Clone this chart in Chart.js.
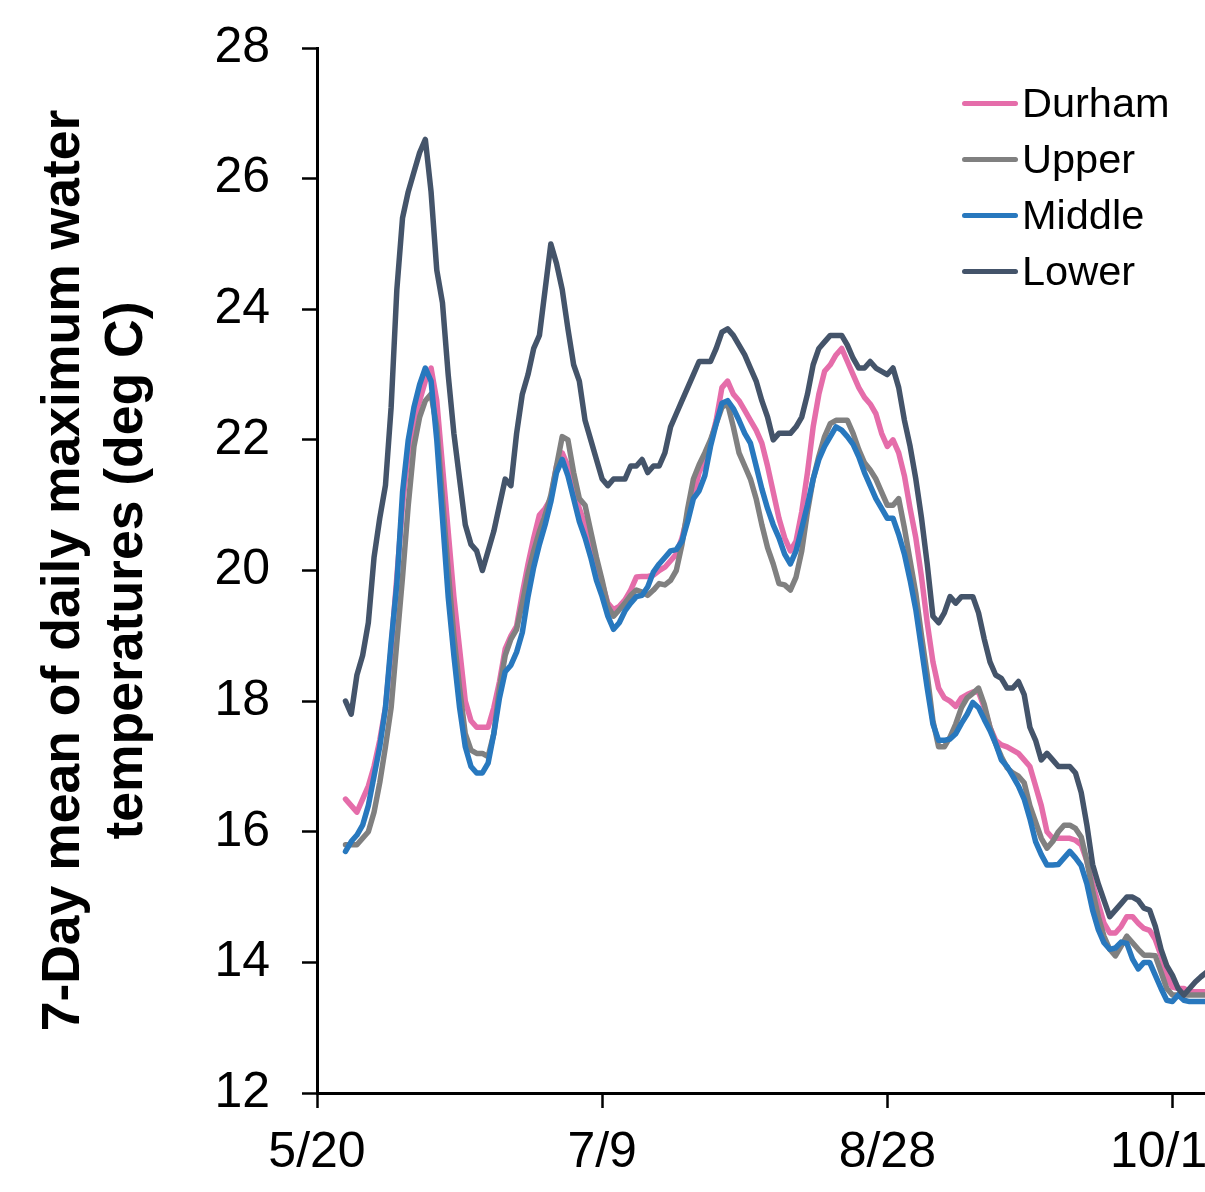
<!DOCTYPE html>
<html>
<head>
<meta charset="utf-8">
<script src="https://cdn.jsdelivr.net/npm/chart.js@4.4.1/dist/chart.umd.min.js"></script>
<style>
  html, body { margin: 0; padding: 0; background: #fff; }
  body { width: 1205px; height: 1192px; overflow: hidden; position: relative; }
  #chart { position: absolute; left: 0; top: 0; }
  #legend { position: absolute; left: 962px; top: 75px; font-family: "Liberation Sans", Arial, sans-serif; font-size: 41.5px; color: #000; }
  .item { display: flex; align-items: center; height: 56px; white-space: nowrap; }
  .swatch { width: 56px; height: 5px; border-radius: 3px; margin-right: 4px; }
</style>
</head>
<body>
<canvas id="chart" width="1258" height="1192"></canvas>
<div id="legend"></div>
<script>
// Данные: 7-дневное среднее суточных максимумов, по дням начиная с 5/25 (день 5 от 5/20)
const firstDay = 5;

const durham = [
    16.5, 16.4, 16.3, 16.5, 16.7, 17.0, 17.4, 17.9, 18.8, 19.9,
    21.0, 21.8, 22.3, 22.6, 22.9, 23.1, 22.6, 21.6, 20.6, 19.6,
    18.8, 18.0, 17.7, 17.6, 17.6, 17.6, 17.9, 18.3, 18.8, 19.0,
    19.15, 19.65, 20.1, 20.5, 20.85, 20.95, 21.1, 21.6, 21.8, 21.6,
    21.2, 20.95, 20.7, 20.4, 20.05, 19.8, 19.5, 19.4, 19.45, 19.55,
    19.7, 19.9, 19.91, 19.91, 19.93, 20.0, 20.05, 20.15, 20.25, 20.5,
    20.85, 21.15, 21.5, 21.7, 21.95, 22.3, 22.8, 22.9, 22.7, 22.6,
    22.45, 22.3, 22.15, 21.95, 21.6, 21.2, 20.8, 20.5, 20.3, 20.45,
    20.9, 21.5, 22.2, 22.7, 23.05, 23.15, 23.3, 23.4, 23.2, 23.0,
    22.8, 22.65, 22.55, 22.4, 22.1, 21.9, 22.0, 21.8, 21.45, 20.95,
    20.5, 19.9, 19.2, 18.6, 18.2, 18.05, 18.0, 17.92, 18.05, 18.1,
    18.14, 18.14, 17.9, 17.6, 17.4, 17.33, 17.3, 17.25, 17.2, 17.1,
    17.0, 16.7, 16.4, 16.0, 15.9, 15.9, 15.9, 15.9, 15.87, 15.8,
    15.55, 15.2, 14.9, 14.6, 14.45, 14.45, 14.55, 14.7, 14.7, 14.6,
    14.52, 14.49, 14.35, 14.1, 13.8, 13.62, 13.6, 13.6, 13.55, 13.55,
    13.55, 13.55, 13.55
];

const upper = [
    15.8, 15.8, 15.8, 15.9, 16.0, 16.3, 16.75, 17.3, 17.9, 18.9,
    19.9, 21.0, 21.9, 22.35, 22.6, 22.7, 22.2, 21.1, 20.0, 19.0,
    18.2, 17.5, 17.25, 17.2, 17.2, 17.15, 17.5, 18.2, 18.7, 18.95,
    19.1, 19.5, 19.95, 20.3, 20.6, 20.85, 21.15, 21.6, 22.05, 22.0,
    21.5, 21.1, 21.0, 20.6, 20.2, 19.85, 19.45, 19.3, 19.4, 19.5,
    19.62, 19.7, 19.67, 19.62, 19.7, 19.8, 19.78, 19.85, 20.0, 20.4,
    20.95, 21.4, 21.62, 21.8, 22.0, 22.25, 22.5, 22.55, 22.2, 21.8,
    21.6, 21.4, 21.1, 20.7, 20.35, 20.1, 19.8, 19.78, 19.7, 19.9,
    20.3, 20.9, 21.4, 21.75, 22.05, 22.25, 22.3, 22.3, 22.3, 22.1,
    21.85, 21.65, 21.54, 21.4, 21.2, 21.0, 21.0, 21.1, 20.65, 20.15,
    19.65, 19.0, 18.4, 17.7, 17.3, 17.3, 17.45, 17.65, 17.9, 18.05,
    18.12, 18.2, 17.95, 17.6, 17.35, 17.15, 16.98, 16.9, 16.85, 16.75,
    16.4, 16.15, 15.9, 15.75, 15.85, 16.0, 16.1, 16.1, 16.05, 15.92,
    15.55, 15.1, 14.7, 14.4, 14.2, 14.1, 14.25, 14.4, 14.3, 14.2,
    14.11, 14.11, 14.1, 13.85, 13.6, 13.5, 13.5, 13.5, 13.5, 13.5,
    13.5, 13.5, 13.5
];

const middle = [
    15.7, 15.85, 15.95, 16.1, 16.4, 16.85, 17.3, 17.9, 18.9, 19.8,
    21.2, 22.0, 22.5, 22.85, 23.1, 22.9, 22.0, 20.8, 19.6, 18.7,
    17.9, 17.3, 17.0, 16.9, 16.9, 17.05, 17.5, 18.05, 18.45, 18.55,
    18.75, 19.05, 19.6, 20.05, 20.4, 20.7, 21.05, 21.5, 21.7, 21.45,
    21.1, 20.75, 20.5, 20.2, 19.85, 19.6, 19.3, 19.1, 19.2, 19.38,
    19.5, 19.6, 19.62, 19.75, 19.98, 20.1, 20.2, 20.3, 20.32, 20.45,
    20.75, 21.1, 21.22, 21.45, 21.9, 22.25, 22.56, 22.6, 22.48, 22.3,
    22.1, 21.95, 21.6, 21.25, 20.95, 20.7, 20.5, 20.25, 20.1, 20.3,
    20.65, 21.0, 21.4, 21.7, 21.9, 22.05, 22.2, 22.15, 22.05, 21.93,
    21.74, 21.5, 21.3, 21.1, 20.95, 20.8, 20.8, 20.55, 20.25, 19.85,
    19.4, 18.8, 18.2, 17.65, 17.4, 17.4, 17.42, 17.5, 17.66, 17.8,
    17.98, 17.9, 17.72, 17.55, 17.35, 17.1, 17.0, 16.85, 16.7, 16.5,
    16.2, 15.85, 15.65, 15.49, 15.49, 15.5, 15.6, 15.7, 15.6, 15.48,
    15.2, 14.8, 14.5, 14.3, 14.2, 14.22, 14.31, 14.29, 14.05, 13.9,
    14.0, 14.0, 13.8, 13.6, 13.42, 13.4, 13.5, 13.42, 13.4, 13.4,
    13.4, 13.4, 13.4
];

const lower = [
    18.0, 17.8, 18.4, 18.7, 19.2, 20.2, 20.8, 21.3, 22.5, 24.3,
    25.4, 25.8, 26.1, 26.4, 26.6, 25.8, 24.6, 24.1, 23.0, 22.1,
    21.4, 20.7, 20.4, 20.3, 20.0, 20.3, 20.6, 21.0, 21.4, 21.3,
    22.1, 22.7, 23.0, 23.4, 23.6, 24.3, 25.0, 24.7, 24.3, 23.7,
    23.15, 22.9, 22.3, 22.0, 21.7, 21.4, 21.3, 21.4, 21.4, 21.4,
    21.6, 21.6, 21.7, 21.5, 21.6, 21.6, 21.8, 22.2, 22.4, 22.6,
    22.8, 23.0, 23.2, 23.2, 23.2, 23.4, 23.65, 23.7, 23.6, 23.45,
    23.3, 23.1, 22.9, 22.6, 22.35, 22.0, 22.1, 22.1, 22.1, 22.2,
    22.35, 22.7, 23.15, 23.4, 23.5, 23.6, 23.6, 23.6, 23.45, 23.25,
    23.1, 23.1, 23.2, 23.1, 23.05, 23.0, 23.1, 22.8, 22.3, 21.9,
    21.4, 20.8, 20.1, 19.3, 19.2, 19.35, 19.6, 19.5, 19.6, 19.6,
    19.6, 19.35, 18.95, 18.6, 18.4, 18.35, 18.2, 18.2, 18.3, 18.1,
    17.6, 17.4, 17.1, 17.2, 17.1, 17.0, 17.0, 17.0, 16.9, 16.6,
    16.1, 15.5, 15.2, 14.95, 14.7, 14.8, 14.9, 15.0, 15.0, 14.95,
    14.83, 14.8, 14.55, 14.2, 13.95, 13.8, 13.6, 13.5, 13.6, 13.7,
    13.78, 13.85, 13.9
];

// Подписи оси X (дни от 5/20) и оси Y
const tickDays = [0, 50, 100, 150];
const tickLabels = ['5/20', '7/9', '8/28', '10/17'];
const yTicks = [12, 14, 16, 18, 20, 22, 24, 26, 28];
const xMax = 165;

const seriesNames = ['Durham', 'Upper', 'Middle', 'Lower'];
const seriesColors = ['#e56daa', '#808080', '#2878be', '#44546a'];
const seriesData = [durham, upper, middle, lower];

const fontFamily = '"Liberation Sans", Arial, sans-serif';

function toPoints(values) {
    return values.map((v, i) => ({ x: firstDay + i, y: v }));
}

const datasets = seriesData.map((values, i) => ({
    label: seriesNames[i],
    data: toPoints(values),
    borderColor: seriesColors[i],
    backgroundColor: seriesColors[i],
    borderWidth: 5.5,
    pointRadius: 0,
    tension: 0,
    borderJoinStyle: 'round',
    borderCapStyle: 'round',
    order: seriesData.length - i // Lower поверх остальных
}));

const chart = new Chart(document.getElementById('chart'), {
    type: 'line',
    data: { datasets: datasets },
    options: {
        responsive: false,
        animation: false,
        layout: { padding: { top: 48, left: 0, right: 0, bottom: 0 } },
        plugins: {
            legend: { display: false },
            tooltip: { enabled: false }
        },
        scales: {
            x: {
                type: 'linear',
                min: 0,
                max: xMax,
                afterBuildTicks: scale => { scale.ticks = tickDays.map(v => ({ value: v })); },
                afterFit: scale => { scale.height = 99; },
                grid: { drawOnChartArea: false, drawTicks: true, tickLength: 15, tickWidth: 2.5, tickColor: '#000' },
                border: { display: true, color: '#000', width: 3 },
                ticks: {
                    autoSkip: false,
                    maxRotation: 0,
                    padding: 15,
                    color: '#000',
                    font: { family: fontFamily, size: 50 },
                    callback: value => tickLabels[tickDays.indexOf(value)]
                }
            },
            y: {
                min: 12,
                max: 28,
                afterBuildTicks: scale => { scale.ticks = yTicks.map(v => ({ value: v })); },
                // ширина оси фиксирована, а верхний отступ от подписи не нужен (он задан в layout)
                afterFit: scale => { scale.width = 317; scale.paddingTop = 0; },
                grid: { drawOnChartArea: false, drawTicks: true, tickLength: 15, tickWidth: 2.5, tickColor: '#000' },
                border: { display: true, color: '#000', width: 3 },
                ticks: {
                    padding: 32,
                    color: '#000',
                    font: { family: fontFamily, size: 50 }
                },
                title: {
                    display: true,
                    text: ['7-Day mean of daily maximum water', 'temperatures (deg C)'],
                    color: '#000',
                    font: { family: fontFamily, size: 53.5, weight: 'bold', lineHeight: 1.17 },
                    padding: { top: 33, bottom: 0 }
                }
            }
        }
    }
});

// Легенда внутри области графика
const legend = document.getElementById('legend');
chart.data.datasets.forEach(ds => {
    const item = document.createElement('div');
    item.className = 'item';
    item.innerHTML = `<span class="swatch" style="background:${ds.borderColor}"></span><span>${ds.label}</span>`;
    legend.appendChild(item);
});
</script>
</body>
</html>
